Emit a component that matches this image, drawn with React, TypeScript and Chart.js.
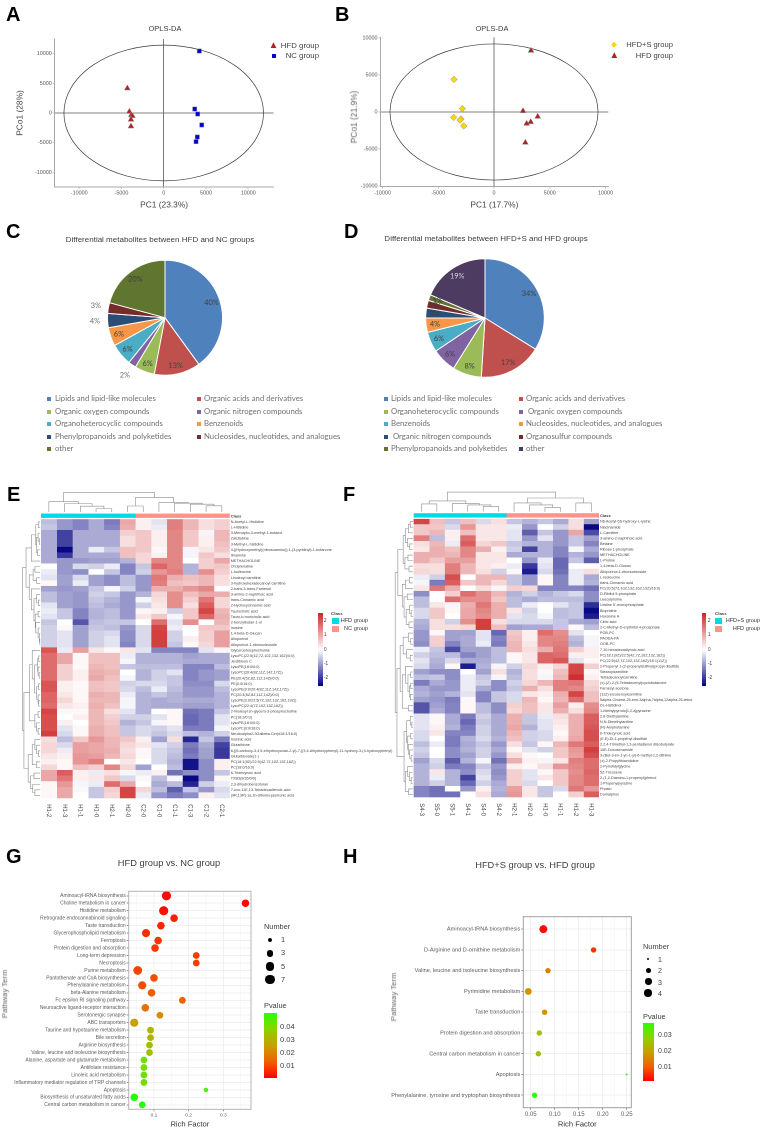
import React, { useEffect, useRef } from "react";
import { Chart, registerables } from "chart.js";

Chart.register(...registerables);

const SANS = '"Liberation Sans", Arial, sans-serif';
const OFFICE = 'Lato, "Noto Sans", sans-serif';

/* ---------- A / B : OPLS-DA scores ---------- */
const A_HFD_X = [-4300, -4060, -3830, -3700, -3870, -3870];
const A_HFD_Y = [4160, 220, -340, -500, -1120, -2250];
const A_NC_X = [4220, 3670, 4020, 4500, 3980, 3830];
const A_NC_Y = [10450, 670, -170, -2020, -4050, -4830];
const B_S_X = [-3590, -2840, -3620, -2960, -3050, -2720];
const B_S_Y = [4410, 450, -720, -950, -1080, -1890];
const B_HFD_X = [3320, 2600, 3920, 3290, 2930, 2810];
const B_HFD_Y = [8290, 135, -630, -1350, -1580, -4140];
const A_TICKS_X = [-10000, -5000, 0, 5000, 10000];
const A_TICKS_Y = [-10000, -5000, 0, 5000, 10000];
const A_ELLIPSE = [11810, 11440];
const B_ELLIPSE = [9330, 9200];

/* ---------- C / D : class composition ---------- */
const C_NAMES = ["Lipids and lipid-like molecules", "Organic acids and derivatives", "Organic oxygen compounds", "Organic nitrogen compounds", "Organoheterocyclic compounds", "Benzenoids", "Phenylpropanoids and polyketides", "Nucleosides, nucleotides, and analogues", "other"];
const C_VALUES = [40, 13, 5.6, 2.2, 6.2, 5.2, 4, 3, 20.8];
const C_TEXT = ["40%", "13%", "6%", "2%", "6%", "6%", "4%", "3%", "20%"];
const C_COLORS = ["#4F81BD", "#C0504D", "#9BBB59", "#8064A2", "#4BACC6", "#F79646", "#2C4D75", "#772C2A", "#5F7530"];
const C_OUTER = [3, 6, 7];
const D_NAMES = ["Lipids and lipid-like molecules", "Organic acids and derivatives", "Organoheterocyclic compounds", " Organic oxygen compounds", "Benzenoids", "Nucleosides, nucleotides, and analogues", " Organic nitrogen compounds", "Organosulfur compounds", "Phenylpropanoids and polyketides", "other"];
const D_VALUES = [33.8, 17.2, 7.9, 6.7, 5.5, 3.9, 2.7, 2.1, 1.6, 18.6];
const D_TEXT = ["34%", "17%", "8%", "6%", "6%", "4%", "3%", "2%", "1%", "19%"];
const D_COLORS = ["#4F81BD", "#C0504D", "#9BBB59", "#8064A2", "#4BACC6", "#F79646", "#2C4D75", "#772C2A", "#5F7530", "#4D3B62"];

/* ---------- E : heat map ---------- */
const E_COLS = ["H1-2", "H1-3", "H1-1", "H1-0", "H2-1", "H2-0", "C2-0", "C1-0", "C1-1", "C1-3", "C1-2", "C2-1"];
const E_ROWS = ["N-Acetyl-L-Histidine", "L-Histidine", "3-Mercapto-3-methyl-1-butanol", "Zalcitabine", "3-Methyl-L-histidine", "4-[(Hydroxymethyl)(nitrosoamino)]-1-(3-pyridinyl)-1-butanone", "Ilmamine", "METHACHOLINE", "Orciprenaline", "L-Isoleucine", "Linoleoyl carnitine", "3-hydroxyhexadecanoyl carnitine", "2-trans,3-trans-Farnesol", "3-amino-2-naphthoic acid", "trans-Cinnamic acid", "2-Hydroxycinnamic acid", "Taurocholic acid", "Tauro-b-muricholic acid", "2-benzylbutan-1-ol", "Inosine", "1,4-beta-D-Glucan", "Allopurinol", "Allopurinol-1-ribonucleoside", "Glycerophosphocholine", "LysoPC(22:5(4Z,7Z,10Z,13Z,16Z)/0:0)", "Jerdibloon C", "LysoPE(18:0/0:0)", "LysoPC(20:4(8Z,11Z,14Z,17Z))", "PE(20:4(5Z,8Z,11Z,14Z)/0:0)", "PE(0:0/16:0)", "LysoPE(0:0/20:4(8Z,11Z,14Z,17Z))", "PC(20:4(5Z,8Z,11Z,14Z)/0:0)", "LysoPE(0:0/22:5(7Z,10Z,13Z,16Z,19Z))", "LysoPC(22:4(7Z,10Z,13Z,16Z))", "2-linoleoyl sn-glycero-3-phosphocholine", "PC(18:3/0:0)", "LysoPE(18:0/0:0)", "LysoPC(0:0/18:0)", "NeuAcalpha2-3Galbeta-Cer(d18:1/16:0)", "Inosinic acid", "Glutathione", "6-[(6-carboxy-3,4,5-trihydroxyoxan-2-yl)-7-[(3,4-dihydroxyphenyl)-11-hydroxy-3-(4-hydroxyphenyl)", "Glutathionate(1-)", "PC(18:1(9Z)/22:5(4Z,7Z,10Z,13Z,16Z))", "PC(18:0/16:0)", "6-Tridecynoic acid", "TXB3(8/26/0/0)", "2,3-dihydrobenzofuran", "7-oxo-11E,13-Tetradecadienoic acid", "(9R,13R)-1a,1b-dihomo-jasmonic acid"];
const E_Z = [
  [-.7, -1.1, -1.3, -.9, -1.4, 1.1, .2, -.3, 1.6, .9, .4, .6],
  [-.6, -1.1, -1.3, -.9, -1.3, 1, .2, -.2, 1.6, .9, .4, .6],
  [-.9, -2, -.9, -.9, -.9, .6, .7, .2, 1.5, .7, -.1, .9],
  [-.9, -2, -.9, -.9, -.9, .4, .7, .2, 1.5, .7, .2, .9],
  [-.9, -2, -.9, -.9, -.9, .4, .7, .2, 1.5, .7, .2, .8],
  [-.9, -2.6, -.9, -.2, -.6, .8, .7, .1, 1.5, -.1, .3, .7],
  [-.9, -2.1, -.9, -.9, -.9, .8, .5, .2, 1.5, -.1, .7, .4],
  [-.9, -1.1, -1.1, -1, -1, -.8, .5, 1.5, 1.5, 0, .6, 1.1],
  [0, -1.1, -.4, -.5, -.2, -1.3, -.6, 1.9, 1.5, -.8, .6, .7],
  [-.2, -1.1, -1.2, 0, -.6, -1.3, -.5, 1.3, 1.6, -.8, 1.4, .6],
  [-.3, -1, -.4, -1, -1.2, -.7, -1.1, 1.7, 1, .8, .9, .4],
  [.1, -1, -.2, -1, -1.2, -.7, -1.1, 1.6, .8, .7, .9, .4],
  [-1, -1.1, -1, -.6, -.1, -.5, -1.1, 1, 1, 1.3, 1.5, 0],
  [-.7, -1, -1.1, -.5, -.6, -1.1, -.8, .5, 1.4, .8, 1.1, 1],
  [-.7, -1, -1.1, -.6, -.8, -1.1, -.1, .4, 1.4, .6, 1.7, .5],
  [-.3, -1, -1.1, -.7, -.9, -1.1, -.5, .3, 1.4, .4, 2, .5],
  [-.2, -.6, -1.3, -.8, -.7, -1.1, .1, .2, -.5, .7, 2.3, .9],
  [-.3, -.6, -1.3, -.8, -.7, -1.1, .3, .7, -.1, .7, 1.9, 1],
  [-.6, 0, -1.8, -.7, -.6, -.6, 0, 1.8, -.3, 1.4, 0, .9],
  [-.5, .1, -1, -.6, -.7, -1.1, -.4, 2.3, -.2, 0, .7, .7],
  [-.5, -.3, -1, -.5, -.4, -1.2, -.4, 2.4, -.5, 0, .6, 1.2],
  [-.5, -.3, -1, -.5, -.3, -1.2, -.4, 2.4, -.5, .2, .6, 1.2],
  [-.5, -.3, -1, -.5, -.3, -1.3, -.4, 2.4, -.6, .1, .5, 1.2],
  [2.1, -.2, 1.2, .3, .1, .3, -.3, -1.3, -1.3, -1.3, -.3, .1],
  [1.8, 1.1, .1, .8, .8, -.2, -.8, -.8, -.8, -1, -.9, -.9],
  [1.8, 1.1, .1, .8, .8, -.1, -.8, -.8, -.8, -.9, -.9, -.9],
  [1.8, .6, .1, .9, .8, -.6, -.7, -.7, -.7, -1.3, -1.3, -.7],
  [1.8, .6, .2, 1, .9, 0, -.8, -.5, -.3, -1.3, -1.1, -1],
  [1.8, .6, .2, 1.1, .8, -.1, -.8, -.5, -.6, -1.3, -1.1, -1],
  [2.1, .2, .1, .8, .7, -.5, -.4, -.4, -.6, -1.2, -1.2, -.4],
  [2.1, .2, .1, .8, .7, -.4, -.7, -.2, -.7, -1.1, -1.1, -.7],
  [1.9, .3, .1, 1, .9, -.2, -.8, -.6, -.8, -1.1, -1.1, -.8],
  [1.9, .5, .1, .9, .9, -.1, -.8, -.9, -.8, -.9, -.9, -.8],
  [1.8, .3, .2, 1, .8, -.1, -.8, -.9, -.9, -1, -1, -.8],
  [2.3, .1, .1, .9, .4, -.3, -.8, 0, .1, -1.5, -1.4, -.6],
  [2.2, 0, .2, .9, .6, -.5, -.5, -.3, .1, -1.6, -1.4, -.3],
  [2.2, .2, 0, .9, .7, -.8, -.6, -.1, .1, -1.6, -1.4, -.3],
  [2.2, -.3, .1, 1, .8, -.6, -.4, -.5, -.3, -1.4, -1.4, -.1],
  [2.4, -.4, .1, 1, .8, -.6, -.4, -.6, -.4, -.7, -.8, -.5],
  [.4, -.7, .7, 1.3, .9, .7, .2, -1, .4, -2.3, -.6, -1.4],
  [.5, -.4, 1.2, 1.1, .9, .5, .3, -.3, -.5, -1.4, -.9, -2],
  [.5, -.2, 1.2, 1.1, 1, .4, .1, -.4, -.6, -1.5, -1, -2.1],
  [.3, .2, 1.3, 1.2, .9, .5, .1, -.4, -.7, -1.4, -1, -2.1],
  [.2, .1, 1.3, 1.6, 0, .3, 0, -.4, -.8, -2.5, -1.2, .2],
  [.5, .1, .8, .6, 1.5, .5, -1, 0, -.7, -2.5, -1.2, .2],
  [1.1, 2, .2, -.2, .4, -.1, -.2, .2, -1.5, -1.2, -1.2, -.6],
  [1.1, 1.7, .2, .3, .7, -.4, .1, -.7, -.1, -2.6, -1.2, .1],
  [.1, 1.3, -.1, -.2, 1.8, 1.1, 0, -.9, -.7, -2.3, -.5, -.2],
  [.1, 1.1, .1, -.6, .6, 2.3, .5, -.7, -1.7, -.6, -1.1, -.4],
  [.1, 1.1, 0, -.6, .5, 2.3, -.2, -1.1, -1.4, -1.2, .2, -.3],
];
const E_CLASS = [0, 0, 0, 0, 0, 0, 1, 1, 1, 1, 1, 1];
const E_TOP_TREE: any = [1, [.53, 0, [.43, 1, [.3, 2, [.17, 3, 4]]]], [.74, [.31, 5, 6], [.48, 7, [.45, 8, [.4, 9, [.32, 10, 11]]]]]];
const E_ROW_TREE: any = [1,
  [.8, [.5, [.25, [.1, 0, 1], [.2, [.12, 2, [.05, 3, 4]], [.15, 5, 6]]], 7],
    [.62, [.4, [.3, 8, 9], [.2, 10, 11]], [.5, 12, [.35, [.2, 13, [.1, 14, 15]], [.28, [.12, 16, 17], [.25, 18, [.12, 19, [.05, 20, [.02, 21, 22]]]]]]]]],
  [.92, [.6, [.45, 23, [.32, [.15, [.08, 24, 25], [.12, 26, [.06, 27, 28]]], [.2, [.1, 29, 30], [.12, 31, [.08, 32, 33]]]]], [.3, [.12, 34, 35], [.2, 36, [.12, 37, 38]]]],
    [.68, [.45, [.3, 39, [.2, 40, [.1, 41, 42]]], [.22, 43, 44]], [.55, [.35, 45, 46], [.42, 47, [.3, 48, 49]]]]]];

/* ---------- F : heat map ---------- */
const F_COLS = ["S4-3", "S5-0", "S5-1", "S4-1", "S4-0", "S4-2", "H2-1", "H2-0", "H1-0", "H1-1", "H1-2", "H1-3"];
const F_ROWS = ["N6-Acetyl-5S-hydroxy-L-lysine", "Niacinamide", "L-Carnitine", "3-amino-2-naphthoic acid", "Betaine", "Ribose 1-phosphate", "METHACHOLINE", "L-Proline", "1,4-beta-D-Glucan", "Allopurinol-1-ribonucleoside", "L-Isoleucine", "trans-Cinnamic acid", "PC(20:5(7Z,10Z,13Z,16Z,19Z)/16:0)", "D-Ribitol 5-phosphate", "Leucylproline", "Uridine 5'-monophosphate", "Biopridine", "Hoxanine A", "Citric acid", "2-C-Methyl-D-erythritol 4-phosphate", "POB-PC", "PAODA-PA", "OOB-PC", "7,10-hexadecadiynoic acid", "PC(18:1(9Z)/22:5(4Z,7Z,10Z,13Z,16Z))", "PC(22:5(4Z,7Z,10Z,13Z,16Z)/18:1(11Z))", "2-Propenyl 1-(2-propenylsulfinyl)propyl disulfide", "Stearoylcarnitine", "Tetradecanoylcarnitine", "(±)-(Z)-2-(5-Tetradecenyl)cyclobutanone", "Farnesyl acetone", "(11Z)-eicosenoylcarnitine", "5alpha-Cholest-25-ene-3alpha,7alpha,12alpha,26-tetrol", "DL-Histidinol", "1-Methylpyrrolo[1,2-a]pyrazine", "2,6-Diethylaniline", "N,N-Dimethylaniline", "(R)-Amphetamine", "6-Tridecynoic acid", "(E,E)-Di-1-propenyl disulfide", "2,2,4-Trimethyl-1,3-pentadienol diisobutyrate", "10E-Docosenamide", "3-(But-3-en-1-yn-1-yl)-6-methyl-1,2-dithiine", "(±)-2-Propylthiazolidine", "2-Pyrrolidylglycine", "5Z-Tricosene", "2-(1,2-Diamino-1-propenyl)phenol", "1-Propenylpyrazine", "Phosin", "Dumalphos"];
const F_Z = [
  [2.3, .8, -.6, .8, -.4, .4, -.6, -.8, -.6, -.9, .4, -1],
  [.7, .7, -.4, 1.3, .3, .3, -.2, -1.1, 0, -.5, .4, -2.6],
  [.7, .9, .2, .8, .3, .3, -.3, -1.7, -.6, -1.1, 1.1, -1.9],
  [1.6, -.7, .2, 1.8, .3, .3, -.3, -1.1, -.3, -1.1, -.6, -1],
  [.4, .9, -.2, 2, .5, .7, -.6, -.8, -.8, -1.1, -.6, -1.3],
  [.3, 1, .8, 1.5, 1, .2, -.5, -2, -.8, -1.3, -.1, -.9],
  [1, 1, .9, 1.5, .3, .3, -.9, -.8, -.8, -1.3, -.8, -1.1],
  [1, .7, 1.2, 1.2, .3, .3, 0, -1.1, -.2, -1.6, -.6, -1.7],
  [.4, .4, 1.6, .9, .3, .2, -.2, -2.1, -.3, -1.6, 0, 0],
  [.5, .4, 1.6, .9, .4, -.5, .1, -2.4, -.4, -1.5, -.2, .4],
  [-.2, -.5, 2.2, 0, .9, .9, -.6, -1.1, .1, -1.3, -.2, -.9],
  [-.1, -1.4, 2, .7, .9, .5, -.6, -1.1, .1, -1.3, -.2, -.8],
  [.3, 1.7, 1, 0, .4, -.1, .6, .5, -1.3, -1.3, -1.3, -1.5],
  [-1.2, 0, .6, 1.8, 1.4, .9, -.8, -.5, -.8, -.6, -.4, -1.2],
  [-.7, 0, 1.8, 1.4, 1.4, .7, -.7, -.9, -.7, -.7, -.7, -1.2],
  [-.7, .3, -.1, 1, 1.7, 1, -.7, -.2, 0, -.3, -.6, -2.2],
  [-.4, .7, .1, 1.1, 1.5, 1, .3, -.5, 0, -.7, -.6, -2.6],
  [-.4, .7, 0, 1.1, 1.4, 1, -.3, -.4, -.1, -.7, -.6, -2.4],
  [-.8, .4, -.5, 1.4, 2.4, .4, -.4, -.4, -.4, -.6, -.9, -1],
  [-.9, .4, .4, .5, 2.4, .8, -1, -.9, -.9, -.6, .1, -.7],
  [-1.1, .1, -1, -1, -.3, -1.6, .7, .2, 1.8, 1.4, -.3, 0],
  [-1.1, .6, -1, -.9, -.3, -1.3, .8, .2, 1.5, 1.5, -.7, -.1],
  [-1.2, .6, -1.3, -.9, -.2, -1.4, .9, .3, 1.5, 1.6, -.8, -.1],
  [-.2, -.6, -1.9, -1, -1, -.7, .9, .4, 1, 1.7, .6, .2],
  [-.5, -.7, -.7, -1.3, -1, -.7, .1, .3, 1.9, 1.8, .2, .2],
  [-.3, -.8, -.4, -.9, -.9, -.7, .1, .3, 1.9, 2.1, -.3, .1],
  [-.4, -.9, .1, -2.4, -.8, -.1, -.5, .5, .2, .5, 2.3, .6],
  [-1, -1.2, -1.2, 0, -1, .4, -.8, .4, .1, .8, 2.3, .1],
  [-.7, -.6, -1.2, -.2, -.6, -.1, -.7, .4, -.1, .9, 2.6, .2],
  [-1.4, -.9, -1.1, -.2, -.5, -1.2, -.5, .5, .9, 1.6, 1.7, .5],
  [-.9, -1.1, -1.1, -.2, -.9, -1.2, -.6, 1, .4, 1.6, 1.5, .6],
  [-.8, -1, -.8, -.3, -1.3, -.6, -.4, .3, .2, 1, 2.3, .8],
  [-1, -1.1, -1.4, .1, -1.3, -.6, -.4, .9, .1, .9, 1.8, .8],
  [-1.8, -1, -1.3, .1, -.7, -1.2, .6, .8, .3, 1.2, .2, 1.4],
  [-1.8, -.9, -1.3, .1, -.7, -1.2, .5, .8, .3, 1, .4, 1.5],
  [-.3, .1, -.9, -1.4, -.5, -.9, 1, -.6, -.2, .4, 1, 2],
  [-.3, .1, -.9, -1.6, -.6, -.9, 1, -.6, -.3, .3, 1, 2],
  [-.3, .2, -.8, -1.4, -.5, -.9, 1.1, -.8, -.3, .2, 1, 2.1],
  [-.4, .3, -1.3, -1.3, -.5, -.9, .9, -.5, -.4, .1, 1, 2.2],
  [-.4, 0, -1.4, -.8, -.4, -.8, .8, -.5, -.4, .2, 1.1, 2.2],
  [-.7, -.2, -1.4, -.9, -.6, -1.1, .4, -.6, .1, .9, 1.7, 2],
  [-.5, 0, -1.2, -.8, -.5, -.9, .1, -.3, -.5, .7, 1.3, 2.4],
  [-.6, 0, -1.2, -1, -.5, -1.1, .4, .1, 0, .7, 1.2, 2.2],
  [-1, -.4, -1.7, -.8, -.1, -1.5, 1, .2, -.1, .3, 1.6, 1.8],
  [-.8, -.5, -1.4, -1.3, -.6, -1.1, .2, .1, .4, 1.3, 1.5, 1.8],
  [-.8, .3, -.8, -1.2, -.4, -1.2, .6, -.3, .1, .7, 1.4, 1.9],
  [-.8, -.2, -.8, -2, -.3, -1.1, .6, -.3, .3, .7, 1.5, 1.8],
  [-.8, -.5, -.8, -1.6, -.5, -.9, .6, -.4, 0, .7, 1.5, 1.8],
  [-1.3, -1.5, 0, -1.1, .2, -.8, 1.2, .3, -.6, -.4, 1.7, 1.3],
  [-1.3, -1.5, -1.5, 0, .4, -.9, 1.3, .3, -.6, 0, .6, 2],
];
const F_CLASS = [0, 0, 0, 0, 0, 0, 1, 1, 1, 1, 1, 1];
const F_TOP_TREE: any = [1, [.55, [.4, 0, 1], [.42, 2, [.35, 3, [.28, 4, 5]]]], [.7, [.45, 6, [.35, 7, [.22, 8, 9]]], [.45, 10, 11]]];
const F_ROW_TREE: any = [1,
  [.85, [.55, [.42, [.25, [.15, 0, 1], 2], [.3, 3, [.2, 4, 5]]], [.45, [.28, 6, 7], [.22, 8, 9]]],
    [.6, [.42, [.2, 10, 11], 12], [.5, [.32, 13, 14], [.38, [.18, 15, [.1, 16, 17]], [.22, 18, 19]]]]],
  [.9, [.72, [.55, [.25, 20, [.12, 21, 22]], [.35, 23, [.15, 24, 25]]], [.6, [.42, 26, [.28, [.12, 27, 28], [.2, [.12, 29, 30], [.14, 31, 32]]]], [.25, 33, 34]]],
    [.5, [.35, [.15, 35, [.06, 36, 37]], [.3, [.12, 38, 39], [.25, 40, [.18, 41, [.1, 42, 43]]]]], [.42, [.3, 44, [.2, 45, [.1, 46, 47]]], [.25, 48, 49]]]]];

/* ---------- G / H : pathway enrichment ---------- */
const G_TERMS = ["Aminoacyl-tRNA biosynthesis", "Choline metabolism in cancer", "Histidine metabolism", "Retrograde endocannabinoid signaling", "Taste transduction", "Glycerophospholipid metabolism", "Ferroptosis", "Protein digestion and absorption", "Long-term depression", "Necroptosis", "Purine metabolism", "Pantothenate and CoA biosynthesis", "Phenylalanine metabolism", "beta-Alanine metabolism", "Fc epsilon RI signaling pathway", "Neuroactive ligand-receptor interaction", "Serotonergic synapse", "ABC transporters", "Taurine and hypotaurine metabolism", "Bile secretion", "Arginine biosynthesis", "Valine, leucine and isoleucine biosynthesis", "Alanine, aspartate and glutamate metabolism", "Antifolate resistance", "Linoleic acid metabolism", "Inflammatory mediator regulation of TRP channels", "Apoptosis", "Biosynthesis of unsaturated fatty acids", "Central carbon metabolism in cancer"];
const G_RICH = [.136, .364, .128, .158, .12, .077, .112, .103, .222, .222, .053, .1, .066, .093, .182, .075, .117, .043, .09, .09, .087, .087, .071, .071, .071, .071, .25, .043, .066];
const G_NUMBER = [7, 4, 7, 4, 4, 5, 4, 4, 3, 3, 6, 4, 5, 4, 3, 4, 3, 5, 3, 3, 3, 3, 3, 3, 3, 3, 1, 4, 3];
const G_P = [.001, .001, .002, .004, .005, .006, .007, .007, .008, .008, .009, .01, .01, .012, .013, .016, .021, .025, .03, .03, .032, .033, .041, .041, .041, .041, .046, .05, .05];
const H_TERMS = ["Aminoacyl-tRNA biosynthesis", "D-Arginine and D-ornithine metabolism", "Valine, leucine and isoleucine biosynthesis", "Pyrimidine metabolism", "Taste transduction", "Protein digestion and absorption", "Central carbon metabolism in cancer", "Apoptosis", "Phenylalanine, tyrosine and tryptophan biosynthesis"];
const H_RICH = [.0764, .181, .086, .045, .079, .068, .066, .25, .058];
const H_NUMBER = [4, 2, 2, 3, 2, 2, 2, 1, 2];
const H_P = [.001, .005, .014, .016, .016, .024, .025, .034, .037];
const G_X_MAJOR = [.1, .2, .3];
const G_X_MINOR = [.05, .15, .25, .35];
const H_X_MAJOR = [.05, .1, .15, .2, .25];
const H_X_MINOR = [.075, .125, .175, .225];
const G_SIZES = [1, 3, 5, 7];
const H_SIZES = [1, 2, 3, 4];
const G_BAR = [.04, .03, .02, .01];
const H_BAR = [.03, .02, .01];
const HEAT_TICKS = [2, 1, 0, -1, -2];

/* ---------- helpers ---------- */
type Box = { x: number; y: number; w: number; h: number };
type Plot = { l: number; t: number; r: number; b: number };

const G_RADIUS: Record<number, number> = { 1: 2.2, 2: 2.9, 3: 3.4, 4: 3.8, 5: 4.1, 6: 4.4, 7: 4.6 };
const H_RADIUS: Record<number, number> = { 1: 1, 2: 2.7, 3: 3.4, 4: 4 };

const STOPS: [number, number[]][] = [[0, [255, 0, 0]], [.25, [240, 96, 0]], [.5, [200, 160, 0]], [.75, [140, 210, 0]], [1, [40, 255, 0]]];
function pColor(f: number) {
  const v = Math.max(0, Math.min(1, f));
  for (let i = 1; i < STOPS.length; i++) {
    if (v <= STOPS[i][0]) {
      const [a, ca] = STOPS[i - 1];
      const [b, cb] = STOPS[i];
      const t = (v - a) / (b - a);
      return `rgb(${ca.map((c, k) => Math.round(c + (cb[k] - c) * t)).join(",")})`;
    }
  }
  return "rgb(40,255,0)";
}
const P_GRADIENT = `linear-gradient(to top, ${STOPS.map(([s, c]) => `rgb(${c.join(",")}) ${s * 100}%`).join(",")})`;

function zColor(z: number) {
  const t = Math.min(1, Math.abs(z) / 2.7);
  const to = z < 0 ? [0, 0, 128] : [205, 38, 38];
  return `rgb(${to.map((c) => Math.round(255 + (c - 255) * t)).join(",")})`;
}

function padding(box: Box, p: Plot) {
  return { top: p.t - box.y, left: 0, right: box.x + box.w - p.r, bottom: 0 };
}

function scatterConfig(box: Box, p: Plot, xr: number[], yr: number[], ellipse: number[], sets: any[], xTitle: string, yTitle: string | null): any {
  const titleSize = 8.4;
  const axis = (ticks: number[], pos: string, lim: number[], fit: (s: any) => void, title: any) => ({
    type: "linear", position: pos, min: lim[0], max: lim[1],
    afterBuildTicks: (s: any) => { s.ticks = ticks.map((value) => ({ value })); },
    afterFit: fit,
    grid: {
      color: (c: any) => (c.tick && c.tick.value === 0 ? "#5a5a5a" : "rgba(0,0,0,0)"), lineWidth: .8, tickLength: 2,
      tickColor: "#bbbbbb",
    },
    border: { display: true, color: "#a8a8a8", width: 1 },
    ticks: { color: "#555555", font: { family: SANS, size: 5.4 }, padding: 1, maxRotation: 0, autoSkip: false, callback: (v: number) => String(v) },
    title,
  });
  return {
    type: "scatter",
    data: { datasets: sets },
    options: {
      responsive: false, animation: false, devicePixelRatio: 2,
      layout: { padding: padding(box, p), autoPadding: false },
      plugins: { legend: { display: false }, tooltip: { enabled: false }, ellipse: { radii: ellipse } },
      scales: {
        x: axis(A_TICKS_X, "bottom", xr, (s) => { s.height = box.y + box.h - p.b; }, {
          display: true, text: xTitle, color: "#444", font: { family: SANS, size: titleSize }, padding: { top: 0, bottom: 2 },
        }),
        y: axis(A_TICKS_Y, "left", yr, (s) => { s.width = p.l - box.x; }, {
          display: !!yTitle, text: yTitle || "", color: "#444", font: { family: SANS, size: titleSize }, padding: { top: 15, bottom: 0 },
        }),
      },
    },
    plugins: [{
      id: "ellipse",
      beforeDatasetsDraw(ch: any, _a: any, o: any) {
        const { x, y } = ch.scales;
        const cx = x.getPixelForValue(0), cy = y.getPixelForValue(0);
        const ctx = ch.ctx;
        ctx.save();
        ctx.strokeStyle = "#3a3a3a";
        ctx.lineWidth = .7;
        ctx.beginPath();
        ctx.ellipse(cx, cy, Math.abs(x.getPixelForValue(o.radii[0]) - cx), Math.abs(y.getPixelForValue(o.radii[1]) - cy), 0, 0, Math.PI * 2);
        ctx.stroke();
        ctx.restore();
      },
    }],
  };
}

function pair(xs: number[], ys: number[]) {
  return xs.map((x, i) => ({ x, y: ys[i] }));
}

function markerSet(label: string, data: any[], style: string, color: string, r: number) {
  return { label, data, pointStyle: style, backgroundColor: color, borderColor: "#8f8f8f", borderWidth: .5, pointRadius: r, pointHoverRadius: r };
}

function pieConfig(box: Box, cx: number, cy: number, R: number, names: string[], values: number[], text: string[], colors: string[], outer: number[], lightIdx: number[]): any {
  const b = 1;
  const pad = {
    left: cx - R - b / 2 - box.x, right: box.x + box.w - (cx + R + b / 2),
    top: cy - R - b / 2 - box.y, bottom: box.y + box.h - (cy + R + b / 2),
  };
  return {
    type: "pie",
    data: { labels: names, datasets: [{ data: values, backgroundColor: colors, borderColor: "#ffffff", borderWidth: b }] },
    options: { responsive: false, animation: false, devicePixelRatio: 2, layout: { padding: pad, autoPadding: false }, plugins: { legend: { display: false }, tooltip: { enabled: false } } },
    plugins: [{
      id: "sliceText",
      afterDatasetsDraw(ch: any) {
        const ctx = ch.ctx;
        ctx.save();
        ctx.font = `7.4px ${OFFICE}`;
        ctx.textAlign = "center";
        ctx.textBaseline = "middle";
        ch.getDatasetMeta(0).data.forEach((arc: any, i: number) => {
          const out = outer.includes(i);
          const a = (arc.startAngle + arc.endAngle) / 2;
          const rr = arc.outerRadius * (out ? 1.22 : .85);
          ctx.fillStyle = lightIdx.includes(i) ? "#d8d8e0" : out ? "#6a6a6a" : "#404040";
          ctx.fillText(text[i], arc.x + Math.cos(a) * rr, arc.y + Math.sin(a) * rr);
        });
        ctx.restore();
      },
    }],
  };
}

function heatConfig(box: Box, p: Plot, cols: string[], rows: string[], z: number[][], cls: number[], topTree: any, rowTree: any): any {
  const labels = ["Class", ...rows];
  const rowH = (p.b - p.t) / labels.length;
  const datasets = cols.map((name, j) => {
    const fill = labels.map((_, i) => (i === 0 ? (cls[j] === 0 ? "#00DAE0" : "#FF9289") : zColor(z[i - 1][j])));
    return { label: name, data: labels.map(() => 1), backgroundColor: fill, borderColor: fill, borderWidth: .35, borderSkipped: false, barPercentage: 1, categoryPercentage: 1 };
  });
  return {
    type: "bar",
    data: { labels, datasets },
    options: {
      indexAxis: "y", responsive: false, animation: false, devicePixelRatio: 2,
      layout: { padding: { left: p.l - box.x, right: 0, top: p.t - box.y, bottom: box.y + box.h - p.b }, autoPadding: false },
      plugins: { legend: { display: false }, tooltip: { enabled: false } },
      scales: {
        x: { type: "linear", stacked: true, min: 0, max: cols.length, display: false },
        y: {
          type: "category", position: "right", stacked: true,
          afterFit: (s: any) => { s.width = box.x + box.w - p.r; },
          grid: { display: false, drawTicks: false },
          border: { display: false },
          ticks: {
            autoSkip: false, padding: 1, color: "#444444",
            font: (c: any) => (c.index === 0 ? { family: SANS, size: 4, weight: "bold" } : { family: SANS, size: 3.75 }),
          },
        },
      },
    },
    plugins: [{
      id: "heatDecor",
      afterDatasetsDraw(ch: any) {
        const { x, y } = ch.scales;
        const area = ch.chartArea;
        const ctx = ch.ctx;
        const colX = (i: number) => x.getPixelForValue(i + .5);
        const rowY = (i: number) => y.getPixelForValue(i + 1);
        ctx.save();
        ctx.fillStyle = "#ffffff";
        ctx.fillRect(area.left - 1, y.getPixelForValue(0) + rowH / 2 - 1.3, area.right - area.left + 2, 1.3);
        ctx.strokeStyle = "#8c8c8c";
        ctx.lineWidth = .6;
        const topBase = y.getPixelForValue(0) - rowH / 2 - 1.5;
        const walkTop = (n: any): [number, number] => {
          if (typeof n === "number") return [colX(n), topBase];
          const [h, a, b] = n;
          const [xa, ya] = walkTop(a);
          const [xb, yb] = walkTop(b);
          const yy = topBase - h * 19.7;
          ctx.beginPath();
          ctx.moveTo(xa, ya); ctx.lineTo(xa, yy); ctx.lineTo(xb, yy); ctx.lineTo(xb, yb);
          ctx.stroke();
          return [(xa + xb) / 2, yy];
        };
        walkTop(topTree);
        const leftBase = area.left - .8;
        const walkLeft = (n: any): [number, number] => {
          if (typeof n === "number") return [leftBase, rowY(n)];
          const [h, a, b] = n;
          const [xa, ya] = walkLeft(a);
          const [xb, yb] = walkLeft(b);
          const xx = leftBase - h * 17.7;
          ctx.beginPath();
          ctx.moveTo(xa, ya); ctx.lineTo(xx, ya); ctx.lineTo(xx, yb); ctx.lineTo(xb, yb);
          ctx.stroke();
          return [xx, (ya + yb) / 2];
        };
        walkLeft(rowTree);
        ctx.fillStyle = "#444444";
        ctx.font = `6px ${SANS}`;
        ctx.textAlign = "left";
        ctx.textBaseline = "middle";
        cols.forEach((name, i) => {
          ctx.save();
          ctx.translate(colX(i), area.bottom + 6);
          ctx.rotate(Math.PI / 2);
          ctx.fillText(name, 0, 0);
          ctx.restore();
        });
        ctx.restore();
      },
    }],
  };
}

function bubbleConfig(box: Box, p: Plot, terms: string[], rich: number[], num: number[], pv: number[], radii: Record<number, number>, pMax: number, xr: number[], major: number[], minor: number[], digits: number, yFont: number, xFont: number, boxColor: string, xTitle: string): any {
  const points = terms.map((_, i) => ({ x: rich[i], y: i, r: radii[num[i]] }));
  return {
    type: "bubble",
    data: { datasets: [{ label: "Pathway", data: points, backgroundColor: pv.map((v) => pColor(v / pMax)), borderWidth: 0, clip: false }] },
    options: {
      responsive: false, animation: false, devicePixelRatio: 2,
      layout: { padding: padding(box, p), autoPadding: false },
      plugins: { legend: { display: false }, tooltip: { enabled: false } },
      scales: {
        x: {
          type: "linear", position: "bottom", min: xr[0], max: xr[1],
          afterBuildTicks: (s: any) => { s.ticks = [...major, ...minor].sort((a, b) => a - b).map((value) => ({ value })); },
          afterFit: (s: any) => { s.height = box.y + box.h - p.b; },
          grid: {
            color: "#ececec", lineWidth: (c: any) => (c.tick && major.includes(c.tick.value) ? .8 : .4), tickLength: 2,
            tickColor: (c: any) => (c.tick && major.includes(c.tick.value) ? "#777777" : "rgba(0,0,0,0)"),
          },
          border: { display: false },
          ticks: { color: "#5a5a5a", font: { family: SANS, size: xFont }, padding: 1, autoSkip: false, maxRotation: 0, callback: (v: number) => (major.includes(v) ? v.toFixed(digits) : "") },
          title: { display: true, text: xTitle, color: "#333", font: { family: SANS, size: 7.6 }, padding: { top: 0, bottom: 1 } },
        },
        y: {
          type: "linear", position: "left", reverse: true, min: -.6, max: terms.length - .4,
          afterBuildTicks: (s: any) => { s.ticks = terms.map((_, value) => ({ value })); },
          afterFit: (s: any) => { s.width = p.l - box.x; },
          grid: { color: "#ececec", lineWidth: .8, tickLength: 2, tickColor: "#777777" },
          border: { display: false },
          ticks: { color: "#5a5a5a", font: { family: SANS, size: yFont }, padding: 1, autoSkip: false, callback: (v: number) => terms[v] },
        },
      },
    },
    plugins: [{
      id: "panelFrame",
      afterDatasetsDraw(ch: any) {
        const { left, right, top, bottom } = ch.chartArea;
        const ctx = ch.ctx;
        ctx.save();
        ctx.strokeStyle = boxColor;
        ctx.lineWidth = 1;
        ctx.strokeRect(left, top, right - left, bottom - top);
        ctx.restore();
      },
    }],
  };
}

/* ---------- React ---------- */
function Panel({ box, make }: { box: Box; make: () => any }) {
  const ref = useRef<HTMLCanvasElement>(null);
  useEffect(() => {
    const chart = new Chart(ref.current as HTMLCanvasElement, make());
    return () => chart.destroy();
  }, []);
  return <canvas ref={ref} width={box.w} height={box.h} style={{ position: "absolute", left: box.x, top: box.y, width: box.w, height: box.h }} />;
}

function Txt({ x, y, s, size, color = "#3c3c3c", bold, anchor = "l", rot, fam = SANS }: any) {
  const tx = anchor === "l" ? "0" : anchor === "c" ? "-50%" : "-100%";
  return (
    <span style={{
      position: "absolute", left: x, top: y, whiteSpace: "pre", fontFamily: fam, fontSize: size, color, lineHeight: 1,
      fontWeight: bold ? 700 : 400, transform: `translate(${tx},-50%)${rot ? ` rotate(${rot}deg)` : ""}`, willChange: "transform",
    }}>{s}</span>
  );
}

function Mark({ x, y, kind, size, color }: any) {
  const clip: any = {
    tri: "polygon(50% 0, 100% 100%, 0 100%)",
    dia: "polygon(50% 0, 100% 50%, 50% 100%, 0 50%)",
    sq: "none",
    dot: "none",
  };
  return <div style={{ position: "absolute", left: x - size / 2, top: y - size / 2, width: size, height: size, background: color, clipPath: clip[kind], borderRadius: kind === "dot" ? "50%" : 0 }} />;
}

function PieLegend({ names, colors, rowsY, sx1, tx1, sx2, tx2 }: any) {
  return names.map((n: string, i: number) => {
    const col = i % 2;
    const y = rowsY[Math.floor(i / 2)];
    return (
      <React.Fragment key={i}>
        <div style={{ position: "absolute", left: col ? sx2 : sx1, top: y - 1.9, width: 3.8, height: 3.8, background: colors[i] }} />
        <Txt x={col ? tx2 : tx1} y={y} s={n} size={7.75} color="#727272" fam={OFFICE} />
      </React.Fragment>
    );
  });
}

function HeatKey({ barX, labelX, classX, swatchX, textR, names }: any) {
  return (
    <>
      <div style={{ position: "absolute", left: barX, top: 612.8, width: 4.6, height: 73.2, background: "linear-gradient(#CD2626, #ffffff 50.5%, #000080)" }} />
      {HEAT_TICKS.map((t, i) => <Txt key={t} x={labelX} y={621 + i * 14.3} s={String(t)} size={4.6} />)}
      <Txt x={classX} y={614.2} s="Class" size={4.4} bold />
      <div style={{ position: "absolute", left: swatchX, top: 618.4, width: 6.6, height: 5.4, background: "#00DAE0" }} />
      <div style={{ position: "absolute", left: swatchX, top: 626, width: 6.6, height: 5.8, background: "#FF9289" }} />
      <Txt x={textR} y={621} s={names[0]} size={5.6} anchor="r" />
      <Txt x={textR} y={628.5} s={names[1]} size={5.6} anchor="r" />
    </>
  );
}

const BOX_A: Box = { x: 0, y: 20, w: 330, h: 192 };
const BOX_B: Box = { x: 345, y: 20, w: 290, h: 192 };
const BOX_C: Box = { x: 40, y: 250, w: 250, h: 140 };
const BOX_D: Box = { x: 380, y: 250, w: 230, h: 140 };
const BOX_E: Box = { x: 15, y: 488, w: 395, h: 335 };
const BOX_F: Box = { x: 390, y: 488, w: 310, h: 335 };
const BOX_G: Box = { x: 0, y: 880, w: 262, h: 250 };
const BOX_H: Box = { x: 381, y: 905, w: 260, h: 225 };
const LEGEND_ROWS = [399.3, 411.7, 424.3, 437, 449.3];

export default function App() {
  const letters: [string, number, number][] = [["A", 6, 14], ["B", 335, 14], ["C", 6, 231], ["D", 344, 231], ["E", 6.5, 494], ["F", 343.3, 494], ["G", 6, 856], ["H", 343, 856]];
  return (
    <div style={{ position: "absolute", left: 0, top: 0, width: 761, height: 1131, overflow: "hidden", background: "#fff" }}>
      {letters.map(([s, x, y]) => <Txt key={s} x={x} y={y} s={s} size={20} bold color="#000" />)}

      <Txt x={165} y={29.3} s="OPLS-DA" size={7.5} anchor="c" />
      <Panel box={BOX_A} make={() => scatterConfig(BOX_A, { l: 54.7, t: 39, r: 273.5, b: 187 }, [-12900, 12994], [-12479, 12479], A_ELLIPSE, [
        markerSet("HFD group", pair(A_HFD_X, A_HFD_Y), "triangle", "#B22222", 3.4),
        markerSet("NC group", pair(A_NC_X, A_NC_Y), "rect", "#0000CD", 3),
      ], "PC1 (23.3%)", "PCo1 (28%)")} />
      <Mark x={273.5} y={45.2} kind="tri" size={6} color="#B22222" />
      <Mark x={273.5} y={56} kind="sq" size={4} color="#0000CD" />
      <Txt x={318.5} y={45.6} s="HFD group" size={7.8} anchor="r" />
      <Txt x={318.5} y={56} s="NC group" size={7.8} anchor="r" />

      <Txt x={492} y={29.3} s="OPLS-DA" size={7.5} anchor="c" />
      <Panel box={BOX_B} make={() => scatterConfig(BOX_B, { l: 380.5, t: 37.3, r: 608.3, b: 186.7 }, [-10180, 10250], [-10100, 10100], B_ELLIPSE, [
        markerSet("HFD+S group", pair(B_S_X, B_S_Y), "rectRot", "#FFD700", 3.3),
        markerSet("HFD group", pair(B_HFD_X, B_HFD_Y), "triangle", "#B22222", 3.4),
      ], "PC1 (17.7%)", null)} />
      <Txt x={353.5} y={117} s="PCo1 (21.9%)" size={8.4} anchor="c" rot={-90} color="#666" />
      <Mark x={614} y={44.7} kind="dia" size={6} color="#FFD700" />
      <Mark x={614.3} y={55.3} kind="tri" size={6} color="#B22222" />
      <Txt x={672.7} y={44.7} s="HFD+S group" size={7.6} anchor="r" />
      <Txt x={672.7} y={56} s="HFD group" size={7.6} anchor="r" />

      <Txt x={160.3} y={239.7} s="Differential metabolites between HFD and NC groups" size={8} anchor="c" />
      <Panel box={BOX_C} make={() => pieConfig(BOX_C, 165, 317.7, 57.5, C_NAMES, C_VALUES, C_TEXT, C_COLORS, C_OUTER, [])} />
      <PieLegend names={C_NAMES} colors={C_COLORS} rowsY={LEGEND_ROWS} sx1={47.4} tx1={54.7} sx2={197.4} tx2={204.3} />

      <Txt x={486} y={239} s="Differential metabolites between HFD+S and HFD groups" size={8} anchor="c" />
      <Panel box={BOX_D} make={() => pieConfig(BOX_D, 485, 318, 59.3, D_NAMES, D_VALUES, D_TEXT, D_COLORS, [], [9])} />
      <PieLegend names={D_NAMES} colors={D_COLORS} rowsY={LEGEND_ROWS} sx1={384} tx1={390.7} sx2={519} tx2={526} />

      <Panel box={BOX_E} make={() => heatConfig(BOX_E, { l: 41, t: 513.6, r: 229.7, b: 798.2 }, E_COLS, E_ROWS, E_Z, E_CLASS, E_TOP_TREE, E_ROW_TREE)} />
      <HeatKey barX={318} labelX={324.3} classX={331} swatchX={332.4} textR={367.7} names={["HFD group", "NC group"]} />

      <Panel box={BOX_F} make={() => heatConfig(BOX_F, { l: 413.7, t: 513.3, r: 599, b: 797.3 }, F_COLS, F_ROWS, F_Z, F_CLASS, F_TOP_TREE, F_ROW_TREE)} />
      <HeatKey barX={701.7} labelX={707.7} classX={714.7} swatchX={715.3} textR={760} names={["HFD+S group", "HFD group"]} />

      <Txt x={169} y={864} s="HFD group vs. NC group" size={9.3} anchor="c" />
      <Txt x={4.7} y={994} s="Pathway Term" size={7.7} anchor="c" rot={-90} color="#666" />
      <Panel box={BOX_G} make={() => bubbleConfig(BOX_G, { l: 128.7, t: 891.3, r: 251, b: 1109.3 }, G_TERMS, G_RICH, G_NUMBER, G_P, G_RADIUS, .05, [.027, .38], G_X_MAJOR, G_X_MINOR, 1, 5, 4.8, "#b5b5b5", "Rich Factor")} />
      <Txt x={263.7} y={927} s="Number" size={7.4} />
      {G_SIZES.map((n, i) => (
        <React.Fragment key={n}>
          <Mark x={270} y={940.3 + i * 13.1} kind="dot" size={G_RADIUS[n] * 2} color="#000" />
          <Txt x={280.7} y={940.3 + i * 13.1} s={String(n)} size={7.4} />
        </React.Fragment>
      ))}
      <Txt x={263.7} y={1006} s="Pvalue" size={7.4} />
      <div style={{ position: "absolute", left: 263.7, top: 1013.3, width: 13, height: 65, background: P_GRADIENT }} />
      {G_BAR.map((v, i) => <Txt key={v} x={280} y={1026.7 + i * 13} s={String(v)} size={7.6} />)}

      <Txt x={534.7} y={866} s="HFD+S group vs. HFD group" size={9.3} anchor="c" />
      <Txt x={394} y={997} s="Pathway Term" size={7.7} anchor="c" rot={-90} color="#666" />
      <Panel box={BOX_H} make={() => bubbleConfig(BOX_H, { l: 523.3, t: 916.7, r: 631.3, b: 1107.7 }, H_TERMS, H_RICH, H_NUMBER, H_P, H_RADIUS, .0364, [.0346, .2596], H_X_MAJOR, H_X_MINOR, 2, 5.6, 6, "#a0a0a0", "Rich Factor")} />
      <Txt x={642.7} y={946.7} s="Number" size={7.4} />
      {H_SIZES.map((n, i) => (
        <React.Fragment key={n}>
          <Mark x={648.3} y={958.7 + i * 11.5} kind="dot" size={H_RADIUS[n] * 2} color="#000" />
          <Txt x={657.7} y={958.7 + i * 11.5} s={String(n)} size={7} />
        </React.Fragment>
      ))}
      <Txt x={642.7} y={1017} s="Pvalue" size={7.4} />
      <div style={{ position: "absolute", left: 642.7, top: 1023.3, width: 11.6, height: 57.4, background: P_GRADIENT }} />
      {H_BAR.map((v, i) => <Txt key={v} x={657.7} y={1033.7 + i * 16.3} s={String(v)} size={7} />)}
    </div>
  );
}
